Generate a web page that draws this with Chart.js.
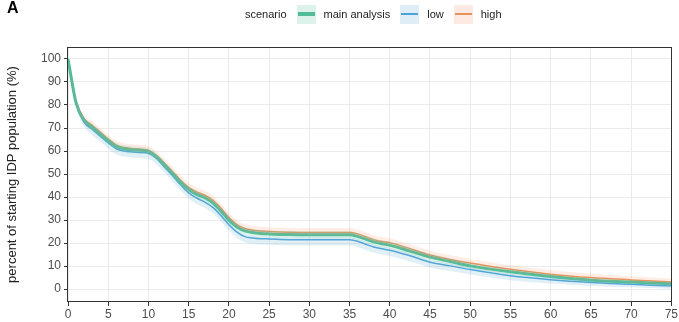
<!DOCTYPE html>
<html>
<head>
<meta charset="utf-8">
<script src="https://cdn.jsdelivr.net/npm/chart.js@4"></script>
<style>
  html, body { margin: 0; padding: 0; background: #fff; }
  #wrap { position: relative; width: 679px; height: 322px; font-family: "Liberation Sans", Arial, sans-serif; }
  #panelLabel { position: absolute; left: 7px; top: -1px; font-size: 16px; font-weight: bold; color: #000; }
  #legend { position: absolute; left: 245px; top: 4px; height: 20px; display: flex; align-items: center; font-size: 11px; color: #222; }
  .key { width: 19px; height: 19px; position: relative; margin: 0 8px 0 8px; }
  .key span { position: absolute; left: 1px; right: 1px; top: 50%; }
  .lab { margin-right: 4px; }
</style>
</head>
<body>
<div id="wrap">
  <div id="panelLabel">A</div>
  <div id="legend">
    <span class="lab" style="margin-right:2px">scenario</span>
    <div class="key" style="background:rgba(102,194,165,0.22)"><span style="height:4px;margin-top:-2px;background:#52bc96"></span></div>
    <span class="lab" style="margin-right:2px">main analysis</span>
    <div class="key" style="background:rgba(107,174,214,0.22)"><span style="height:2px;margin-top:-1px;background:#4ea3d6"></span></div>
    <span class="lab" style="margin-right:2px">low</span>
    <div class="key" style="background:rgba(252,141,98,0.18)"><span style="height:2px;margin-top:-1px;background:#e5935c"></span></div>
    <span class="lab">high</span>
  </div>
  <canvas id="c" width="679" height="322"></canvas>
</div>
<script>
// years since start (x) and series values (percent of starting IDP population)
const years = [0,1,2,3,4,5,6,7,8,9,10,11,12,13,14,15,16,17,18,19,20,21,22,23,24,25,27.5,30,32.5,35,36,37,38,39,40,42.5,45,47.5,50,55,60,65,70,75];

const mainAnalysis = [100,81,73.5,70.5,67.5,64.5,62,61,60.5,60.3,59.8,57.5,54,50.3,46.5,43.3,41.2,39.7,37.5,34,30,27,25.3,24.6,24.2,24,23.7,23.6,23.6,23.6,22.9,21.7,20.5,19.7,19.1,16.5,13.9,12,10.1,7.5,5.5,3.9,3.1,2.3];
const mainLower = [100,80,72.3,69,66,63,60.5,59.5,59,58.8,58.3,56,52.5,48.8,45,41.8,39.7,38.2,36,32.5,28.5,25.5,23.8,23.1,22.7,22.5,22.2,22.1,22.1,22.1,21.4,20.2,19,18.2,17.6,15,12.4,10.6,8.9,6.4,4.5,3,2.3,1.5];
const mainUpper = [100,82,74.7,72,69,66,63.5,62.5,62,61.8,61.3,59,55.5,51.8,48,44.8,42.7,41.2,39,35.5,31.5,28.5,26.8,26.1,25.7,25.5,25.2,25.1,25.1,25.1,24.4,23.2,22,21.2,20.6,18,15.4,13.4,11.3,8.6,6.5,4.8,3.9,3.1];

const lowScenario = [100,80.5,72.5,69.5,66.5,63.5,61,60,59.6,59.4,59,56.8,53,49.3,45.3,41.8,39.5,37.8,35.5,32,28,24.8,22.8,22.2,21.9,21.8,21.5,21.5,21.5,21.4,20.8,19.5,18.3,17.5,16.9,14.5,11.7,10.1,8.5,5.8,4.1,2.9,2.1,1.3];
const lowLower = [100,79,70.5,67,64,61,58.5,57.5,57.1,56.9,56.5,54.3,50.5,46.8,42.8,39.3,37,35.3,33,29.5,25.5,22.3,20.3,19.7,19.4,19.3,19,19,19,18.9,18.3,17,15.8,15,14.4,12,9.4,7.9,6.4,3.9,2.4,1.4,0.8,0.2];
const lowUpper = [100,81.3,73.5,70.5,67.5,64.5,62,61,60.6,60.4,60,57.8,54,50.3,46.3,42.8,40.5,38.8,36.5,33,29,25.8,23.8,23.2,22.9,22.8,22.5,22.5,22.5,22.4,21.8,20.5,19.3,18.5,17.9,15.5,12.7,11.1,9.4,6.7,5,3.7,2.8,2];

const highScenario = [100,81.5,74,71.2,68.2,65.2,62.6,61.5,61,60.8,60.3,58,54.7,51,47.3,44.2,42.2,40.8,38.7,35.2,31.2,28,26.3,25.6,25.2,25,24.7,24.6,24.6,24.6,24,22.8,21.5,20.7,20.2,17.6,14.8,12.9,11.3,8.6,6.5,5,4,3.1];
const highLower = [100,80.7,73,70.2,67.2,64.2,61.6,60.5,60,59.8,59.3,57,53.7,50,46.3,43.2,41.2,39.8,37.7,34.2,30.2,27,25.3,24.6,24.2,24,23.7,23.6,23.6,23.6,23,21.8,20.5,19.7,19.2,16.6,13.8,11.9,10.3,7.6,5.5,4,3.1,2.3];
const highUpper = [100,82.8,75.6,73,70,67,64.5,63.4,62.9,62.7,62.2,59.9,56.6,52.9,49.2,46.1,44.1,42.7,40.6,37.1,33.1,29.9,28.2,27.5,27.1,26.9,26.6,26.5,26.5,26.5,25.9,24.7,23.4,22.6,22.1,19.5,16.7,14.8,13.1,10.4,8.3,6.7,5.6,4.6];

const xTicks = [0,5,10,15,20,25,30,35,40,45,50,55,60,65,70,75];
const yTicks = [0,10,20,30,40,50,60,70,80,90,100];

const pts = arr => arr.map((v, i) => ({ x: years[i], y: v }));

function band(lower, upper, color) {
  return [
    { data: pts(lower), borderWidth: 0, pointRadius: 0, fill: false, tension: 0.35, cubicInterpolationMode: 'monotone' },
    { data: pts(upper), borderWidth: 0, pointRadius: 0, fill: '-1', backgroundColor: color, tension: 0.35, cubicInterpolationMode: 'monotone' }
  ];
}
function line(vals, color, w) {
  return { data: pts(vals), borderColor: color, borderWidth: w, pointRadius: 0, fill: false, cubicInterpolationMode: 'monotone' };
}

const frame = {
  id: 'frame',
  afterDraw(chart) {
    const a = chart.chartArea, ctx = chart.ctx;
    ctx.save();
    ctx.strokeStyle = '#333';
    ctx.lineWidth = 1;
    ctx.strokeRect(Math.round(a.left) - 0.5, Math.round(a.top) + 0.5, Math.round(a.right - a.left) + 1, Math.round(a.bottom - a.top) - 1);
    ctx.restore();
  }
};

new Chart(document.getElementById('c'), {
  type: 'line',
  data: {
    datasets: [
      ...band(mainLower, mainUpper, 'rgba(102,194,165,0.22)'),
      ...band(lowLower, lowUpper, 'rgba(107,174,214,0.2)'),
      ...band(highLower, highUpper, 'rgba(252,141,98,0.16)'),
      line(mainAnalysis, '#52bc96', 3),
      line(lowScenario, '#4ea3d6', 1.5),
      line(highScenario, '#e5935c', 1.5)
    ]
  },
  options: {
    responsive: false,
    animation: false,
    layout: { padding: { top: 47, right: 7, left: 0, bottom: 0 } },
    plugins: { legend: { display: false }, tooltip: { enabled: false } },
    scales: {
      x: {
        type: 'linear', min: 0, max: 75,
        afterBuildTicks: s => { s.ticks = xTicks.map(v => ({ value: v })); },
        afterFit: s => { s.height = 20; },
        grid: { color: '#ebebeb', lineWidth: 1, drawTicks: true, tickLength: 4, tickColor: '#333' },
        border: { display: false },
        ticks: { color: '#4d4d4d', font: { family: 'Liberation Sans', size: 12 }, padding: 1, maxRotation: 0, autoSkip: false }
      },
      y: {
        type: 'linear', min: -5.6, max: 105.2,
        afterBuildTicks: s => { s.ticks = yTicks.map(v => ({ value: v })); },
        afterFit: s => { s.width = 68; },
        grid: { color: '#ebebeb', lineWidth: 1, drawTicks: true, tickLength: 4, tickColor: '#333' },
        border: { display: false },
        ticks: { color: '#4d4d4d', font: { family: 'Liberation Sans', size: 12 }, padding: 3 },
        title: { display: true, text: 'percent of starting IDP population (%)', color: '#222', font: { family: 'Liberation Sans', size: 13 }, padding: { top: 5, bottom: 0 } }
      }
    }
  },
  plugins: [frame]
});
</script>
</body>
</html>
